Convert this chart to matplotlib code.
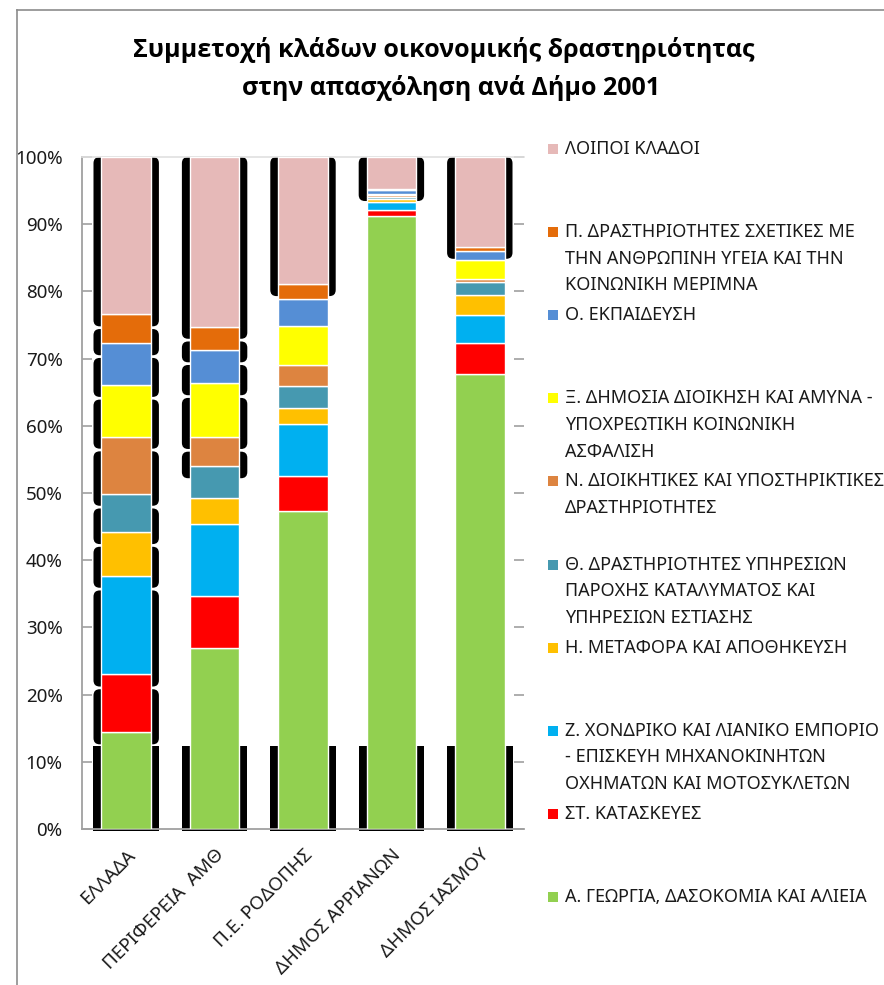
import matplotlib
matplotlib.use("Agg")
import matplotlib.pyplot as plt
from matplotlib.patches import FancyBboxPatch, Rectangle
from matplotlib.lines import Line2D
import numpy as np

plt.rcParams['font.family'] = ['Noto Sans', 'DejaVu Sans']

categories = ["ΕΛΛΑΔΑ", "ΠΕΡΙΦΕΡΕΙΑ  ΑΜΘ", "Π.Ε. ΡΟΔΟΠΗΣ", "ΔΗΜΟΣ ΑΡΡΙΑΝΩΝ", "ΔΗΜΟΣ ΙΑΣΜΟΥ"]

series_names = [
    "Α. ΓΕΩΡΓΙΑ, ΔΑΣΟΚΟΜΙΑ ΚΑΙ ΑΛΙΕΙΑ",
    "ΣΤ. ΚΑΤΑΣΚΕΥΕΣ",
    "Ζ. ΧΟΝΔΡΙΚΟ ΚΑΙ ΛΙΑΝΙΚΟ ΕΜΠΟΡΙΟ\n- ΕΠΙΣΚΕΥΗ ΜΗΧΑΝΟΚΙΝΗΤΩΝ\nΟΧΗΜΑΤΩΝ ΚΑΙ ΜΟΤΟΣΥΚΛΕΤΩΝ",
    "Η. ΜΕΤΑΦΟΡΑ ΚΑΙ ΑΠΟΘΗΚΕΥΣΗ",
    "Θ. ΔΡΑΣΤΗΡΙΟΤΗΤΕΣ ΥΠΗΡΕΣΙΩΝ\nΠΑΡΟΧΗΣ ΚΑΤΑΛΥΜΑΤΟΣ ΚΑΙ\nΥΠΗΡΕΣΙΩΝ ΕΣΤΙΑΣΗΣ",
    "Ν. ΔΙΟΙΚΗΤΙΚΕΣ ΚΑΙ ΥΠΟΣΤΗΡΙΚΤΙΚΕΣ\nΔΡΑΣΤΗΡΙΟΤΗΤΕΣ",
    "Ξ. ΔΗΜΟΣΙΑ ΔΙΟΙΚΗΣΗ ΚΑΙ ΑΜΥΝΑ -\nΥΠΟΧΡΕΩΤΙΚΗ ΚΟΙΝΩΝΙΚΗ\nΑΣΦΑΛΙΣΗ",
    "Ο. ΕΚΠΑΙΔΕΥΣΗ",
    "Π. ΔΡΑΣΤΗΡΙΟΤΗΤΕΣ ΣΧΕΤΙΚΕΣ ΜΕ\nΤΗΝ ΑΝΘΡΩΠΙΝΗ ΥΓΕΙΑ ΚΑΙ ΤΗΝ\nΚΟΙΝΩΝΙΚΗ ΜΕΡΙΜΝΑ",
    "ΛΟΙΠΟΙ ΚΛΑΔΟΙ",
]

# percentages per category (one list per series, in category order)
agri      = [14.4, 27.0, 47.25, 91.2, 67.65]
constr    = [8.6, 7.65, 5.35, 0.9, 4.6]
trade     = [14.7, 10.75, 7.65, 1.25, 4.2]
transport = [6.5, 3.9, 2.35, 0.45, 3.05]
hotels    = [5.7, 4.7, 3.35, 0.3, 1.9]
admin     = [8.5, 4.35, 3.1, 0.2, 0.4]
public    = [7.7, 8.0, 5.85, 0.2, 2.85]
educ      = [6.2, 4.9, 3.9, 0.55, 1.35]
health    = [4.3, 3.5, 2.3, 0.2, 0.65]
other     = [23.4, 25.25, 18.9, 4.75, 13.35]

series_values = [agri, constr, trade, transport, hotels, admin, public, educ, health, other]

colors = ["#92D050", "#FF0000", "#00B0F0", "#FFC000", "#4699B0",
          "#DD8440", "#FFFF00", "#558ED5", "#E46C0A", "#E6B9B8"]

# segments showing the dark shadow artefact (per category, per series)
shadow_flags = [
    [0, 1, 1, 1, 1, 1, 1, 1, 1, 1],
    [0, 0, 0, 0, 0, 1, 1, 1, 1, 1],
    [0, 0, 0, 0, 0, 0, 0, 0, 0, 1],
    [0, 0, 0, 0, 0, 0, 0, 0, 0, 1],
    [0, 0, 0, 0, 0, 0, 0, 0, 0, 1],
]

W, H = 884, 985
fig = plt.figure(figsize=(W / 100, H / 100), dpi=100)

def fx(px):
    return px / W

def fy(py):
    return 1 - py / H

# outer frame
fig.add_artist(Line2D([fx(17), fx(884)], [fy(10), fy(10)], color="#8c8c8c", lw=1.2))
fig.add_artist(Line2D([fx(17), fx(17)], [fy(10), fy(985)], color="#8c8c8c", lw=1.2))

ax = fig.add_axes([fx(82), fy(829), fx(524) - fx(82), fy(157) - fy(829)])

vals = np.array(series_values, dtype=float)
vals = vals / vals.sum(axis=0) * 100
x = np.arange(len(categories))
bar_w = 0.56
shadow_w = 0.74
aspect = (fx(524) - fx(82)) * W / 5 / ((fy(157) - fy(829)) * H / 100)

bottoms = np.zeros(len(categories))
for j, v in enumerate(vals):
    ax.bar(x, v, bar_w, bottom=bottoms, color=colors[j], edgecolor="white",
           linewidth=1.0, zorder=3, label=series_names[j])
    for i in range(len(categories)):
        if shadow_flags[i][j]:
            b = bottoms[i] - 1.8
            t = bottoms[i] + v[i]
            t = 100.0 if t >= 99.9 else t - 2.2
            p = FancyBboxPatch((x[i] - shadow_w / 2, b), shadow_w, t - b,
                               boxstyle="round,pad=0,rounding_size=0.07",
                               mutation_aspect=aspect, facecolor="black",
                               edgecolor="none", zorder=2)
            ax.add_patch(p)
    bottoms += v

# base shadow strip
for i in range(len(categories)):
    ax.add_patch(Rectangle((x[i] - shadow_w / 2, -0.35), shadow_w, 12.65,
                           facecolor="black", edgecolor="none", zorder=2, clip_on=False))

ax.set_xlim(-0.5, len(categories) - 0.5)
ax.set_ylim(0, 100)
ax.set_yticks(np.arange(0, 101, 10))
ax.set_yticklabels([f"{t}%" for t in range(0, 101, 10)], fontsize=13.5, color="#1a1a1a")
ax.tick_params(axis="y", direction="in", length=7, width=1.2, color="#a0a0a0",
               right=True, pad=14)
ax.set_xticks(x)
ax.set_xticklabels(categories, rotation=45, ha="right", va="top",
                   rotation_mode="anchor", fontsize=13.5, color="#1a1a1a")
ax.tick_params(axis="x", length=0, pad=12)
for s in ["left", "bottom"]:
    ax.spines[s].set_color("#a0a0a0")
    ax.spines[s].set_linewidth(1.3)
ax.spines["right"].set_visible(False)
ax.spines["top"].set_color("#e0e0e0")
ax.spines["top"].set_linewidth(1.2)
ax.set_facecolor("none")

# title
title_font = ['Open Sans', 'DejaVu Sans']
fig.text(fx(444), fy(50), "Συμμετοχή κλάδων οικονομικής δραστηριότητας",
         ha="center", va="center", fontsize=18, fontweight="bold", color="black",
         family=title_font)
fig.text(fx(451), fy(88), "στην απασχόληση ανά Δήμο 2001",
         ha="center", va="center", fontsize=18, fontweight="bold", color="black",
         family=title_font)

# legend (reverse order, equal slots)
slot = 83.1
line_h = 26.7
for k, j in enumerate(range(len(series_names) - 1, -1, -1)):
    yc = 149 + k * slot
    fig.add_artist(Rectangle((fx(548), fy(yc + 5)), fx(10), fy(0) - fy(10),
                             facecolor=colors[j], edgecolor="none"))
    for n, line in enumerate(series_names[j].split("\n")):
        fig.text(fx(565), fy(yc + n * line_h), line, ha="left", va="center",
                 fontsize=13, color="#1a1a1a")

fig.savefig("out.png", dpi=100)
